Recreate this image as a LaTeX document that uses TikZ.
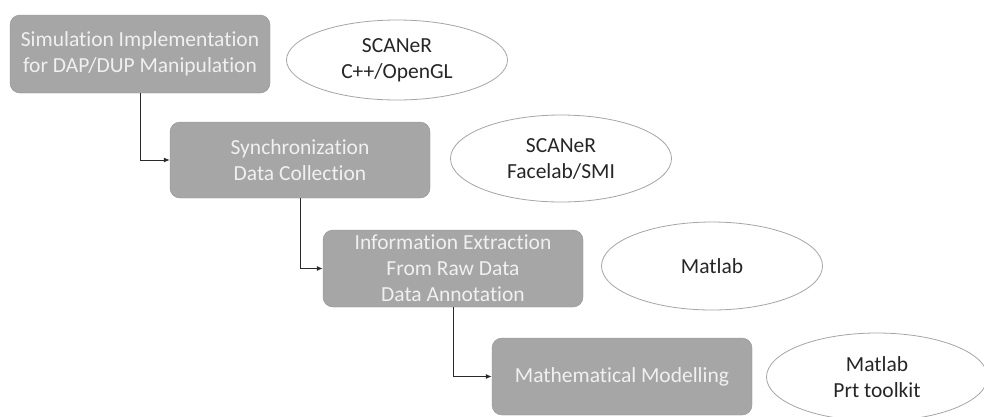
\documentclass[tikz,border=0pt]{standalone}
\usepackage{fontspec}
\setmainfont{Carlito}[RawFeature={-liga}]
\usetikzlibrary{shapes.geometric, arrows.meta}
\definecolor{stepgray}{HTML}{A6A6A6}
\definecolor{stepedge}{HTML}{929292}
\definecolor{tooledge}{HTML}{A5A5A5}
\definecolor{linkgray}{HTML}{2A2A2A}
\begin{document}
\begin{tikzpicture}[x=1pt, y=-1pt, >={Latex[length=6pt, width=5pt]},
    stepbox/.style={draw=stepedge, fill=stepgray, rounded corners=10pt, text=white!94!black,
        align=center, minimum width=260pt, minimum height=77pt, inner sep=0pt,
        font=\fontsize{21.5}{26}\selectfont},
    toolbox/.style={ellipse, draw=tooledge, line width=0.8pt, fill=white, text=black!85, align=center,
        minimum width=221pt, minimum height=88pt, inner sep=0pt,
        font=\fontsize{21.5}{26}\selectfont},
    link/.style={->, draw=linkgray, line width=1pt}]
        % ==== CANVAS ====
        \useasboundingbox[fill=white] (0,0) rectangle (984,416);

        % ==== PROCESS STEPS ====
        \node[stepbox, minimum height=78pt] (sim) at (140,54) {Simulation Implementation\\for DAP/DUP Manipulation};
        \node[stepbox, minimum height=76pt] (sync) at (300,160) {Synchronization\\Data Collection};
        \node[stepbox] (extract) at (453,268.5) {Information Extraction\\From Raw Data\\Data Annotation};
        \node[stepbox] (model) at (622,376.5) {Mathematical Modelling};

        % ==== TOOLS ====
        \node[toolbox, minimum height=80pt] (simtool) at (397,60) {SCANeR\\C++/OpenGL};
        \node[toolbox, minimum height=87pt] (synctool) at (561,158.5) {SCANeR\\Facelab/SMI};
        \node[toolbox] (extracttool) at (712,266) {Matlab};
        \node[toolbox] (modeltool) at (877,377) {Matlab\\Prt toolkit};

        % ==== LINKS BETWEEN STEPS ====
        \draw[link] (sim.south) |- (sync.west);
        \draw[link] (sync.south) |- (extract.west);
        \draw[link] (extract.south) |- (model.west);
\end{tikzpicture}
\end{document}
